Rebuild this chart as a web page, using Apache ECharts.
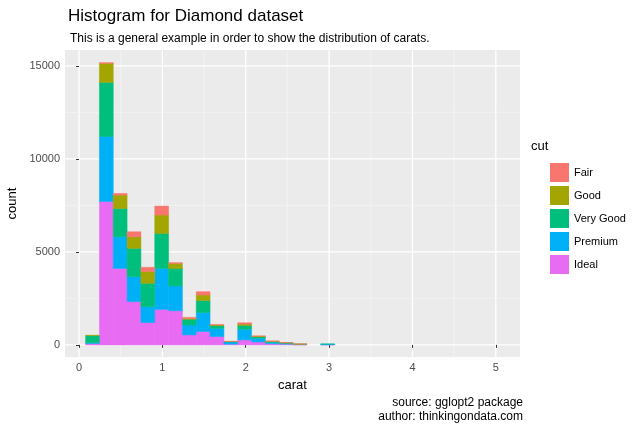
<!DOCTYPE html>
<html><head><meta charset="utf-8">
<script src="https://cdn.jsdelivr.net/npm/echarts@6/dist/echarts.min.js"></script>
<style>html,body{margin:0;padding:0;background:#fff}#c{width:640px;height:436px}</style>
</head><body><div id="c"></div>
<script>
const binStart = 0.162, binWidth = 0.1659;
const cuts = ['Fair','Good','Very Good','Premium','Ideal'];
const colors = ['#F8766D','#A3A500','#00BF7D','#00B0F6','#E76BF3'];
const ideal    = [70,7710,4110,2330,1200,1910,1840,540,720,450,40,270,160,60,40,10,0,5];
const premium  = [50,3490,1700,1340,860,2200,1330,530,1020,440,120,570,200,80,50,20,0,40];
const veryGood = [380,2910,1520,1520,1250,1880,940,310,640,150,20,210,80,40,20,10,0,5];
const good     = [20,1020,720,620,630,990,270,30,300,30,5,70,30,20,10,5,0,0];
const fair     = [0,40,90,270,230,480,40,70,180,20,5,70,10,10,5,5,0,0];
const xTicks = [0,1,2,3,4,5];
const yTicks = [0,5000,10000,15000];

const stackOrder = [['Ideal',ideal],['Premium',premium],['Very Good',veryGood],['Good',good],['Fair',fair]];
const base = ideal.map(()=>0);
const series = [];
stackOrder.forEach(([name,arr])=>{
  const data = arr.map((v,k)=>{const b=base[k]; base[k]+=v; return [binStart+k*binWidth, b, b+v];});
  series.push({
    name, type:'custom', itemStyle:{color:colors[cuts.indexOf(name)]},
    encode:{x:0,y:[1,2]},
    renderItem:(params,api)=>{
      const c=api.value(0), b=api.value(1), t=api.value(2);
      if(t<=b) return null;
      const p1=api.coord([c-binWidth/2,t]), p2=api.coord([c+binWidth/2,b]);
      const col=api.visual('color');
      return {type:'rect',shape:{x:p1[0],y:p1[1],width:p2[0]-p1[0],height:p2[1]-p1[1]},style:{fill:col,stroke:col,lineWidth:0.5}};
    },
    data
  });
});
const X0=-0.168, X1=5.29, Y0=-650, Y1=15850;
const chart = echarts.init(document.getElementById('c'));
chart.setOption({
  animation:false,
  title:[{text:'Histogram for Diamond dataset',left:63,top:3,textStyle:{fontFamily:'Liberation Sans',fontSize:17,fontWeight:'normal',color:'#000'}},
         {text:'This is a general example in order to show the distribution of carats.',left:65,top:28,textStyle:{fontFamily:'Liberation Sans',fontSize:12,fontWeight:'normal',color:'#000'}}],
  legend:{orient:'vertical',left:545,top:158,itemWidth:19,itemHeight:19,itemGap:4,icon:'rect',
    data:cuts,textStyle:{fontFamily:'Liberation Sans',fontSize:11,color:'#000'}},
  graphic:[{type:'text',left:531,top:140,style:{text:'cut',font:'13px Liberation Sans',fill:'#000'}},
    {type:'text',right:117,top:397,style:{text:'source: gglopt2 package',font:'12px Liberation Sans',fill:'#000',align:'right'}},
    {type:'text',right:117,top:411,style:{text:'author: thinkingondata.com',font:'12px Liberation Sans',fill:'#000',align:'right'}}],
  grid:{left:65,top:50,width:455,height:307,show:true,backgroundColor:'#EBEBEB',borderWidth:0,outerBoundsMode:'none',containLabel:false},
  xAxis:{type:'value',min:X0,max:X1,name:'carat',nameLocation:'middle',nameGap:22,
    nameTextStyle:{fontFamily:'Liberation Sans',fontSize:13,color:'#000'},
    axisLine:{show:false},
    axisLabel:{fontFamily:'Liberation Sans',fontSize:11,color:'#4D4D4D',margin:5,customValues:xTicks},
    axisTick:{show:true,customValues:xTicks,length:3,lineStyle:{color:'#333'}},
    splitLine:{show:false}},
  yAxis:{type:'value',min:Y0,max:Y1,name:'count',nameLocation:'middle',nameGap:42,
    nameTextStyle:{fontFamily:'Liberation Sans',fontSize:13,color:'#000'},
    axisLine:{show:false},
    axisLabel:{fontFamily:'Liberation Sans',fontSize:11,color:'#4D4D4D',margin:5,customValues:yTicks,formatter:v=>String(v)},
    axisTick:{show:true,customValues:yTicks,length:3,lineStyle:{color:'#333'}},
    splitLine:{show:false}},
  series:series.concat([
    {type:'custom',name:'_grid',z:0,silent:true,renderItem:(p,api)=>{
      const ch=[];
      [0.5,1.5,2.5,3.5,4.5].forEach(v=>{const a=api.coord([v,Y0]),b=api.coord([v,Y1]);ch.push({type:'line',shape:{x1:a[0],y1:a[1],x2:b[0],y2:b[1]},style:{stroke:'#F5F5F5',lineWidth:0.7}});});
      xTicks.forEach(v=>{const a=api.coord([v,Y0]),b=api.coord([v,Y1]);ch.push({type:'line',shape:{x1:a[0],y1:a[1],x2:b[0],y2:b[1]},style:{stroke:'#fff',lineWidth:1.3}});});
      [2500,7500,12500].forEach(v=>{const a=api.coord([X0,v]),b=api.coord([X1,v]);ch.push({type:'line',shape:{x1:a[0],y1:a[1],x2:b[0],y2:b[1]},style:{stroke:'#F5F5F5',lineWidth:0.7}});});
      yTicks.forEach(v=>{const a=api.coord([X0,v]),b=api.coord([X1,v]);ch.push({type:'line',shape:{x1:a[0],y1:a[1],x2:b[0],y2:b[1]},style:{stroke:'#fff',lineWidth:1.3}});});
      return {type:'group',children:ch};
    },data:[[0,0]]}])
});
</script></body></html>
